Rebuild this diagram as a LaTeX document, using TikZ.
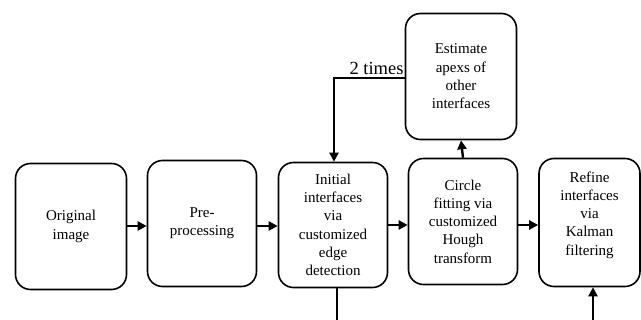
\documentclass[tikz,border=0pt]{standalone}
\usepackage{fontspec}
\setmainfont{Liberation Serif}
\usepackage{tikz}
\usetikzlibrary{arrows.meta}

\begin{document}
\begin{tikzpicture}[x=1pt, y=-1pt,
        stage/.style={draw, line width=1.6pt, rounded corners=15pt, align=center,
            font=\fontsize{15}{18.3}\selectfont, inner sep=2pt},
        flow/.style={-{Triangle[length=9pt, width=9pt]}, line width=2.4pt}
    ]
        \useasboundingbox (0,0) rectangle (641,320);

        % Draw the processing stages
        \node[stage, minimum width=111pt, minimum height=126pt] (orig) at (71, 226.5) {Original\\image};
        \node[stage, minimum width=109pt, minimum height=126pt] (pre) at (202, 223.5) {Pre-\\processing};
        \node[stage, minimum width=109pt, minimum height=125pt] (init) at (333, 225) {Initial\\interfaces\\via\\customized\\edge\\detection};
        \node[stage, minimum width=109pt, minimum height=126pt] (circ) at (463, 221.5) {Circle\\fitting via\\customized\\Hough\\transform};
        \node[stage, minimum width=101pt, minimum height=128pt] (refine) at (589.5, 222.5) {Refine\\interfaces\\via\\Kalman\\filtering\\~};
        \node[stage, minimum width=111pt, minimum height=126pt] (apex) at (461, 76.5) {Estimate\\apexs of\\other\\interfaces};

        % Draw the arrows between stages
        \draw[flow] (orig.east |- 0,226) -- (pre.west |- 0,226);
        \draw[flow] (pre.east |- 0,226) -- (init.west |- 0,226);
        \draw[flow] (init.east |- 0,225) -- (circ.west |- 0,225);
        \draw[flow] (circ.east |- 0,225) -- (refine.west |- 0,225);
        \draw[flow] (circ.north) -- (apex.south);

        % Repeat loop back to the initial interfaces
        \coordinate (bend) at (334, 78);
        \draw[flow, line width=2pt] (apex.west |- bend) -- (bend) -- (init.north -| bend);
        \node[font=\fontsize{18.5}{20}\selectfont, anchor=south east, inner sep=1pt] (times) at (apex.west |- 0,76) {2 times};

        % Lines leaving the bottom of the picture
        \coordinate (initout) at (337, 320);
        \coordinate (refinein) at (593, 320);
        \draw[line width=1.3pt] (init.south -| initout) -- (initout);
        \draw[flow] (refinein) -- (refine.south -| refinein);
    \end{tikzpicture}
\end{document}
